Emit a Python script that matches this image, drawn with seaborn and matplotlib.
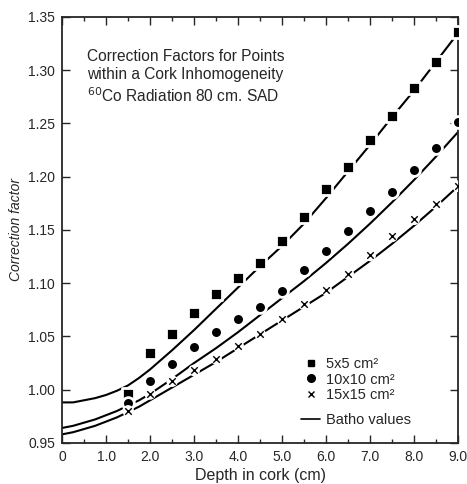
import matplotlib
matplotlib.use("Agg")
import matplotlib.pyplot as plt
import matplotlib.ticker as mticker
from matplotlib.lines import Line2D
import pandas as pd
import seaborn as sns

# measured correction factors (points)
depth_pts = [1.5, 2.0, 2.5, 3.0, 3.5, 4.0, 4.5, 5.0, 5.5, 6.0, 6.5, 7.0, 7.5, 8.0, 8.5, 9.0]
cf_5x5 = [0.996, 1.034, 1.052, 1.072, 1.090, 1.105, 1.119, 1.140, 1.162, 1.188,
          1.209, 1.234, 1.257, 1.283, 1.308, 1.336]
cf_10x10 = [0.987, 1.008, 1.024, 1.040, 1.054, 1.066, 1.078, 1.093, 1.112, 1.130,
            1.149, 1.168, 1.186, 1.206, 1.227, 1.251]
cf_15x15 = [0.980, 0.996, 1.008, 1.018, 1.029, 1.041, 1.052, 1.066, 1.080, 1.094,
            1.109, 1.126, 1.144, 1.160, 1.174, 1.191]

# Batho values (curves)
depth_line = [0.0, 0.25, 0.5, 0.75, 1.0, 1.25, 1.5, 1.75, 2.0, 2.25, 2.5, 3.0, 3.5,
              4.0, 4.5, 5.0, 5.5, 6.0, 6.5, 7.0, 7.5, 8.0, 8.5, 9.0]
batho_5x5 = [0.988, 0.988, 0.990, 0.992, 0.995, 0.999, 1.004, 1.011, 1.019, 1.028,
             1.037, 1.056, 1.076, 1.096, 1.116, 1.135, 1.156, 1.180, 1.205, 1.230,
             1.256, 1.281, 1.308, 1.335]
batho_10x10 = [0.964, 0.966, 0.969, 0.972, 0.976, 0.980, 0.985, 0.990, 0.996, 1.003,
               1.010, 1.025, 1.039, 1.054, 1.070, 1.086, 1.102, 1.119, 1.137, 1.156,
               1.176, 1.197, 1.219, 1.242]
batho_15x15 = [0.958, 0.960, 0.963, 0.966, 0.970, 0.974, 0.979, 0.984, 0.990, 0.996,
               1.002, 1.014, 1.026, 1.039, 1.052, 1.065, 1.078, 1.091, 1.106, 1.121,
               1.137, 1.154, 1.172, 1.191]

x_ticks = [0, 1.0, 2.0, 3.0, 4.0, 5.0, 6.0, 7.0, 8.0, 9.0]
x_tick_labels = ["0", "1.0", "2.0", "3.0", "4.0", "5.0", "6.0", "7.0", "8.0", "9.0"]
y_ticks = [0.95, 1.00, 1.05, 1.10, 1.15, 1.20, 1.25, 1.30, 1.35]

sns.set_style("ticks")
plt.rcParams['font.family'] = ['Liberation Sans', 'DejaVu Sans']

fig = plt.figure(figsize=(4.67, 4.84), dpi=100)
ax = fig.add_axes([0.133, 0.085, 0.848, 0.880])

lines = pd.DataFrame({'depth': depth_line, '5x5': batho_5x5,
                      '10x10': batho_10x10, '15x15': batho_15x15})
for col in ['5x5', '10x10', '15x15']:
    sns.lineplot(data=lines, x='depth', y=col, ax=ax, color='black', lw=1.5,
                 zorder=2, legend=False)

pts = pd.DataFrame({'depth': depth_pts, '5x5': cf_5x5,
                    '10x10': cf_10x10, '15x15': cf_15x15})
# white halo around points to break the curves like the original
sns.scatterplot(data=pts, x='depth', y='5x5', ax=ax, marker='s', s=70,
                color='black', edgecolor='white', linewidth=2.0, zorder=3)
sns.scatterplot(data=pts, x='depth', y='10x10', ax=ax, marker='o', s=72,
                color='black', edgecolor='white', linewidth=2.0, zorder=3)
sns.scatterplot(data=pts, x='depth', y='15x15', ax=ax, marker='o', s=70,
                color='white', edgecolor='none', zorder=3)
sns.scatterplot(data=pts, x='depth', y='15x15', ax=ax, marker='x', s=22,
                color='black', linewidth=1.0, zorder=4)

ax.set_xlim(0, 9.0)
ax.set_ylim(0.95, 1.35)
ax.set_xticks(x_ticks)
ax.set_xticklabels(x_tick_labels)
ax.xaxis.set_minor_locator(mticker.MultipleLocator(0.5))
ax.set_yticks(y_ticks)
ax.yaxis.set_major_formatter(mticker.FormatStrFormatter('%.2f'))
ax.tick_params(axis='both', which='major', direction='in', length=6, width=1.0,
               top=True, right=True, labelsize=10, pad=5)
ax.tick_params(axis='x', which='minor', direction='in', length=3, width=1.0,
               top=True)
for sp in ax.spines.values():
    sp.set_linewidth(1.3)

ax.set_xlabel("Depth in cork (cm)", fontsize=11.5, labelpad=3)
ax.set_ylabel("Correction factor", fontsize=10, style='italic', labelpad=4)

ax.text(0.56, 1.320, "Correction Factors for Points\nwithin a Cork Inhomogeneity\n"
        "$^{60}$Co Radiation 80 cm. SAD", fontsize=11.2, va='top', ha='left',
        linespacing=1.25)

pt_handles = [
    Line2D([], [], marker='s', color='black', ls='none', markersize=5),
    Line2D([], [], marker='o', color='black', ls='none', markersize=5.5),
    Line2D([], [], marker='x', color='black', ls='none', markersize=4.5),
]
leg1 = ax.legend(pt_handles, ["5x5 cm²", "10x10 cm²", "15x15 cm²"],
                 loc='lower left', bbox_to_anchor=(0.585, 0.078), frameon=False,
                 fontsize=10.5, handlelength=1.3, handletextpad=0.4,
                 labelspacing=0.12, borderpad=0)
ax.add_artist(leg1)
ax.legend([Line2D([], [], color='black', lw=1.2)], ["Batho values"],
          loc='lower left', bbox_to_anchor=(0.585, 0.019), frameon=False,
          fontsize=10.5, handlelength=1.3, handletextpad=0.4, borderpad=0)

fig.savefig("out.png", dpi=100)
